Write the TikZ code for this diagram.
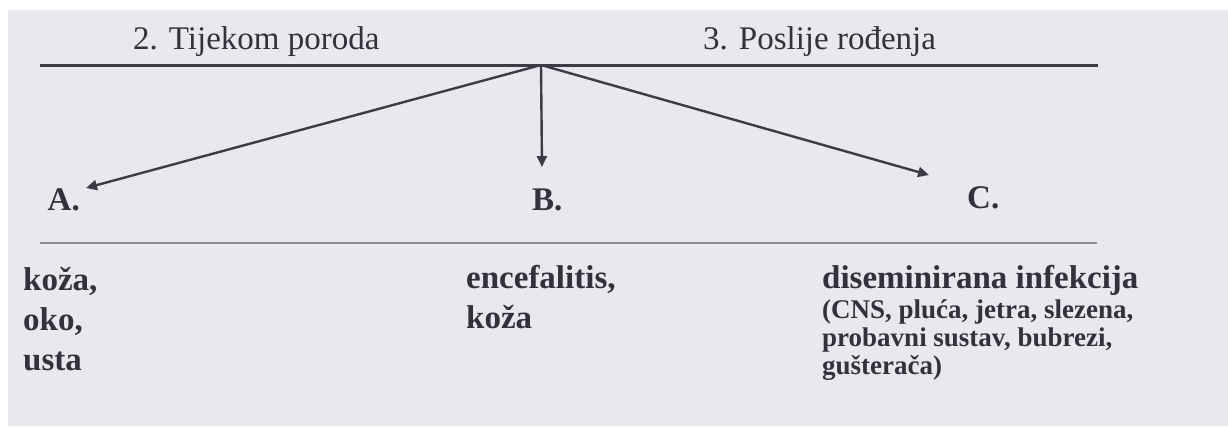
\documentclass[tikz,border=0pt]{standalone}
\usepackage{fontspec}
\setmainfont{Liberation Serif}
\usetikzlibrary{arrows.meta}
\definecolor{paper}{RGB}{232,232,238}
\definecolor{ink}{RGB}{50,50,60}
\definecolor{rule}{RGB}{60,60,70}
\definecolor{softrule}{RGB}{140,140,150}
\tikzset{
  hdr/.style={anchor=base west, inner sep=0pt, text=ink, font=\fontsize{33}{40}\selectfont},
  lbl/.style={anchor=base west, inner sep=0pt, text=ink, font=\fontsize{33}{40}\selectfont\bfseries},
  small/.style={anchor=base west, inner sep=0pt, text=ink, font=\fontsize{27}{30}\selectfont\bfseries},
  topline/.style={draw=rule, line width=3pt},
  lowline/.style={draw=softrule, line width=2.2pt},
  arr/.style={draw=rule, line width=2.4pt, -{Triangle[length=11pt,width=10pt]}}
}
\begin{document}
\begin{tikzpicture}[x=1pt,y=-1pt]
\useasboundingbox (0,0) rectangle (1228,426);
\fill[white] (0,0) rectangle (1228,426);
\fill[paper] (8,10) rectangle (1228,426);
% headers
\node[hdr] (h2) at (133,49) {2. Tijekom poroda};
\node[hdr] (h3) at (703,49) {3. Poslije rođenja};
% top rule
\coordinate (t1) at (40,65);
\coordinate (t2) at (1098,65);
\draw[topline] (t1) -- (t2);
\coordinate (apex) at (541,65);
% targets
\node[lbl, anchor=base east] (A) at (80,210) {A.};
\node[lbl] (B) at (532,210) {B.};
\node[lbl] (C) at (967,208) {C.};
\coordinate (tipA) at (86,188);
\coordinate (tipB) at (542,167);
\coordinate (tipC) at (929,175);
\draw[arr] (apex) -- (tipA);
\draw[arr] (apex) -- (tipB);
\draw[arr] (apex) -- (tipC);
% lower rule
\coordinate (l1) at (40,243);
\coordinate (l2) at (1097,243);
\draw[lowline] (l1) -- (l2);
% column A
\node[lbl] (a1) at (23,290) {koža,};
\node[lbl] (a2) at (23,330) {oko,};
\node[lbl] (a3) at (23,370) {usta};
% column B
\node[lbl] (b1) at (466,288) {encefalitis,};
\node[lbl] (b2) at (466,328) {koža};
% column C
\node[lbl] (c1) at (822,288) {diseminirana infekcija};
\node[small] (c2) at (822,318) {(CNS, pluća, jetra, slezena,};
\node[small] (c3) at (822,346) {probavni sustav, bubrezi,};
\node[small] (c4) at (822,374) {gušterača)};
\end{tikzpicture}
\end{document}
